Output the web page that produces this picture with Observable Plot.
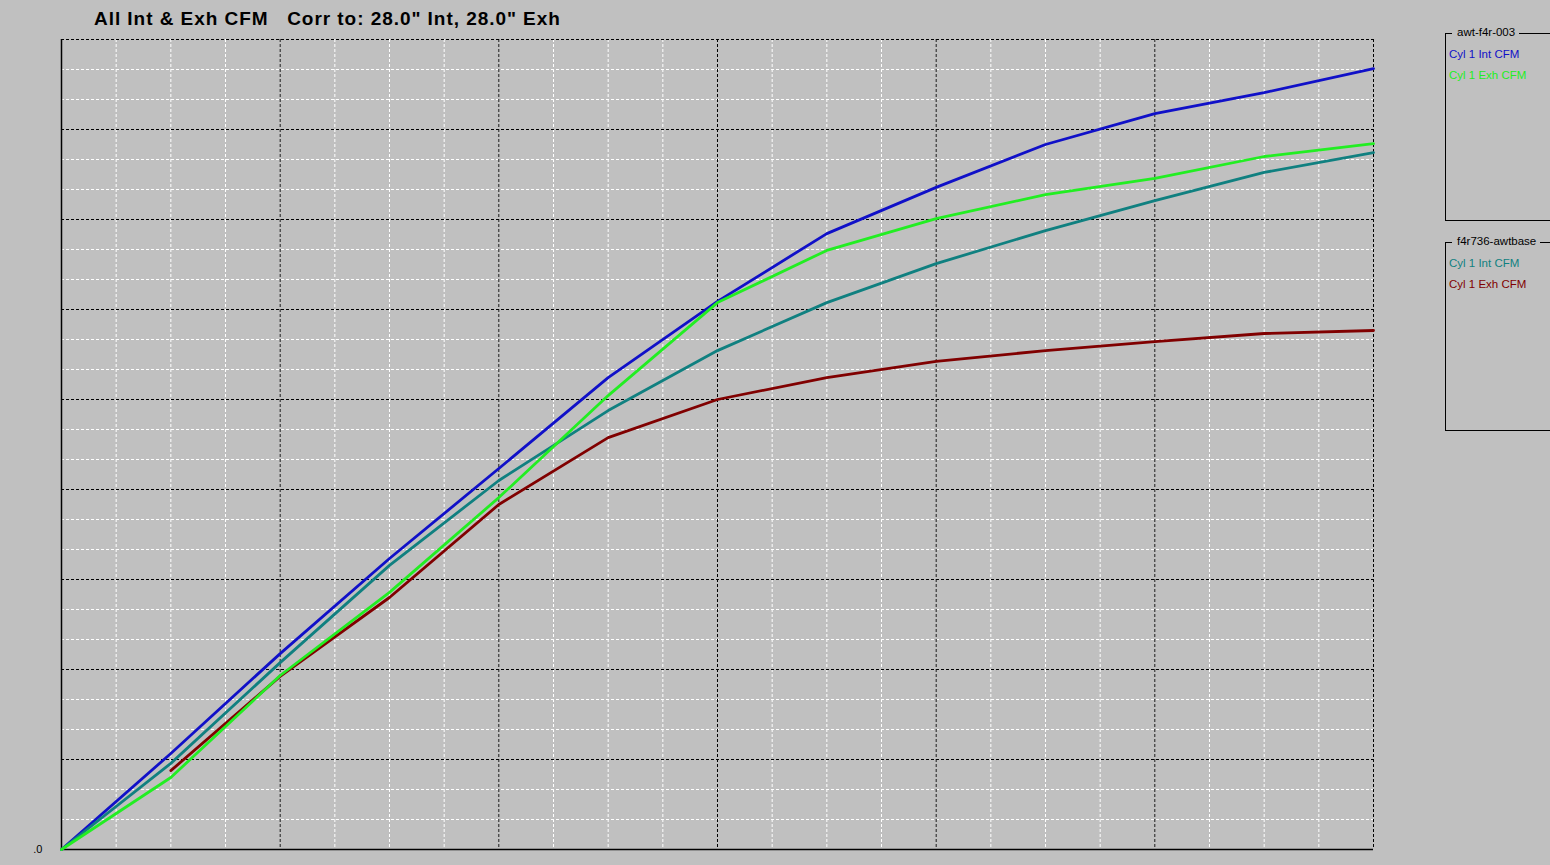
<!DOCTYPE html>
<html>
<head>
<meta charset="utf-8">
<script src="https://cdn.jsdelivr.net/npm/d3@7"></script>
<script src="https://cdn.jsdelivr.net/npm/@observablehq/plot@0.6"></script>
<style>
  html, body { margin: 0; padding: 0; background: #c0c0c0; width: 1550px; height: 865px; overflow: hidden; }
  #chart { position: absolute; left: 0; top: 0; }
  #title { position: absolute; left: 94px; top: 8px; font-family: "Liberation Sans", Arial, sans-serif; font-weight: bold; font-size: 19px; letter-spacing: 0.95px; color: #000; white-space: pre; }
  .lbox { position: absolute; left: 1445px; width: 200px; border-left: 1px solid #000; border-top: 1px solid #000; border-bottom: 1px solid #000; font-family: "Liberation Sans", Arial, sans-serif; font-size: 11.5px; }
  .lbox .cap { position: absolute; left: 6px; top: -8px; background: #c0c0c0; padding: 0 4px 0 5px; color: #000; white-space: pre; }
  .lbox .item { position: absolute; left: 3px; white-space: pre; }
</style>
</head>
<body>
<div id="chart"></div>
<div id="title">All Int &amp; Exh CFM   Corr to: 28.0" Int, 28.0" Exh</div>
<div id="legends"></div>
<script>
// ---- data ----
const testPoints = [0, 1, 2, 3, 4, 5, 6, 7, 8, 9, 10, 11, 12];
const awtIntCFM = [0, 32, 65.3, 97, 127, 157.3, 182.7, 205.3, 220.7, 235, 245.3, 252.3, 260.3];
const awtExhCFM = [0, 24, 58, 85.7, 117.3, 151.3, 182.3, 199.7, 210.3, 218.3, 223.7, 231, 235.3];
const baseIntCFM = [0, 28.7, 62.3, 94.7, 123, 146.3, 166.3, 182.3, 195.3, 206.3, 216.3, 225.7, 232.3];
const baseExhCFM = [null, 26.3, 57.7, 84, 115, 137.3, 150, 157.3, 162.7, 166.3, 169.3, 172, 173];
const yTickLabels = [".0"];
const legendGroups = [
  { name: "awt-f4r-003", items: [["Cyl 1 Int CFM", "#1010c8"], ["Cyl 1 Exh CFM", "#22ee22"]] },
  { name: "f4r736-awtbase", items: [["Cyl 1 Int CFM", "#108080"], ["Cyl 1 Exh CFM", "#800000"]] }
];

// ---- build ----
const series = [
  { key: "awt Int", vals: awtIntCFM, color: "#1010c8" },
  { key: "base Int", vals: baseIntCFM, color: "#108080" },
  { key: "base Exh", vals: baseExhCFM, color: "#800000" },
  { key: "awt Exh", vals: awtExhCFM, color: "#22ee22" }
];
const rows = [];
for (const s of series) testPoints.forEach((x, i) => rows.push({ series: s.key, x, y: s.vals[i] }));

const xMinor = d3.range(0, 12.001, 0.5);
const xMajor = d3.range(0, 12.001, 2);
const yMinor = d3.range(0, 270.001, 10);
const yMajor = d3.range(0, 270.001, 30);

const plot = Plot.plot({
  width: 1550,
  height: 865,
  marginLeft: 61,
  marginRight: 177,
  marginTop: 39,
  marginBottom: 16,
  style: { background: "transparent", fontFamily: "Liberation Sans, Arial, sans-serif", fontSize: "11px", color: "#000" },
  x: { domain: [0, 12], axis: null, label: null },
  y: { domain: [0, 270], axis: null, label: null },
  color: { domain: series.map(s => s.key), range: series.map(s => s.color) },
  marks: [
    Plot.ruleX(xMinor, { stroke: "#ffffff", strokeWidth: 1, strokeDasharray: "3,2" }),
    Plot.ruleY(yMinor, { stroke: "#ffffff", strokeWidth: 1, strokeDasharray: "3,2" }),
    Plot.ruleX(xMajor, { stroke: "#000000", strokeWidth: 1, strokeDasharray: "3,2" }),
    Plot.ruleY(yMajor, { stroke: "#000000", strokeWidth: 1, strokeDasharray: "3,2" }),
    Plot.ruleX([0], { stroke: "#000", strokeWidth: 1.5 }),
    Plot.ruleY([0], { stroke: "#000", strokeWidth: 1.5 }),
    Plot.axisY({ ticks: [0], tickSize: 0, tickPadding: 19, label: null, tickFormat: (d, i) => yTickLabels[i], fontSize: 11 }),
    Plot.line(rows, { x: "x", y: "y", z: "series", stroke: "series", strokeWidth: 2.8, curve: "linear" })
  ]
});
document.getElementById("chart").appendChild(plot);

// legends
const tops = [33, 242];
const heights = [186, 187];
const lg = document.getElementById("legends");
legendGroups.forEach((g, gi) => {
  const box = document.createElement("div");
  box.className = "lbox";
  box.style.top = tops[gi] + "px";
  box.style.height = heights[gi] + "px";
  const cap = document.createElement("div");
  cap.className = "cap";
  cap.textContent = g.name;
  box.appendChild(cap);
  g.items.forEach((it, ii) => {
    const d = document.createElement("div");
    d.className = "item";
    d.textContent = it[0];
    d.style.color = it[1];
    d.style.top = (14 + ii * 21) + "px";
    box.appendChild(d);
  });
  lg.appendChild(box);
});
</script>
</body>
</html>
